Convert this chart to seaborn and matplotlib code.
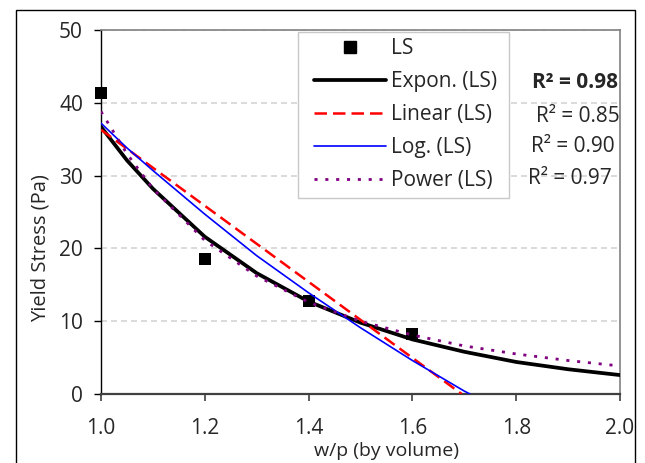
import matplotlib
matplotlib.use("Agg")
import matplotlib.pyplot as plt
from matplotlib.lines import Line2D
from matplotlib.patches import Rectangle
import pandas as pd
import seaborn as sns

# measured yield stress (LS)
ls_x = [1.0, 1.2, 1.4, 1.6]
ls_y = [41.3, 18.5, 12.8, 8.2]

# trendlines, values
fit_x = [1.0, 1.05, 1.1, 1.2, 1.3, 1.4, 1.5, 1.6, 1.7, 1.8, 1.9, 2.0]
expon_y = [36.7, 32.1, 28.2, 21.6, 16.6, 12.7, 9.8, 7.5, 5.8, 4.4, 3.4, 2.6]
power_y = [38.8, 33.0, 28.2, 21.1, 16.2, 12.6, 10.0, 8.1, 6.6, 5.5, 4.6, 3.85]
log_x = [1.0, 1.05, 1.1, 1.2, 1.3, 1.4, 1.5, 1.6, 1.7, 1.711]
log_y = [37.2, 33.8, 30.7, 24.7, 19.0, 13.9, 9.1, 4.6, 0.4, 0.0]
lin_x = [1.0, 1.695]
lin_y = [36.3, 0.0]

labels = ["LS", "Expon. (LS)", "Linear (LS)", "Log. (LS)", "Power (LS)"]
r2_text = ["R\u00b2 = 0.98", "R\u00b2 = 0.85", "R\u00b2 = 0.90", "R\u00b2 = 0.97"]
xticks = [1.0, 1.2, 1.4, 1.6, 1.8, 2.0]
yticks = [0, 10, 20, 30, 40, 50]

sns.set_style("white")
plt.rcParams['font.family'] = ['Open Sans', 'DejaVu Sans']

fig = plt.figure(figsize=(6.45, 4.63), dpi=100)
ax = fig.add_axes([101/645, 1-394/463, 519/645, 364/463])

ls_df = pd.DataFrame({"x": ls_x, "y": ls_y})
fit_df = pd.DataFrame({"x": fit_x, "expon": expon_y, "power": power_y})
log_df = pd.DataFrame({"x": log_x, "y": log_y})
lin_df = pd.DataFrame({"x": lin_x, "y": lin_y})

sns.scatterplot(data=ls_df, x="x", y="y", ax=ax, marker="s", s=64,
                color="black", edgecolor="black", linewidth=0, clip_on=False, zorder=3)
sns.lineplot(data=fit_df, x="x", y="expon", ax=ax, color="black", linewidth=2.7,
             estimator=None, zorder=4)
sns.lineplot(data=lin_df, x="x", y="y", ax=ax, color="#ff0000", linewidth=1.8,
             linestyle=(0, (5, 2.4)), estimator=None, zorder=5)
sns.lineplot(data=log_df, x="x", y="y", ax=ax, color="#0000ff", linewidth=1.2,
             estimator=None, zorder=6)
sns.lineplot(data=fit_df, x="x", y="power", ax=ax, color="#800080", linewidth=2.0,
             linestyle=(0, (1.1, 2.8)), estimator=None, zorder=7)

ax.set_xlim(1.0, 2.0)
ax.set_ylim(0, 50)
ax.set_xticks(xticks)
ax.set_xticklabels(["%.1f" % t for t in xticks])
ax.set_yticks(yticks)
ax.tick_params(axis="x", direction="out", length=5, width=1.2, color="#404040",
               labelsize=15, pad=12, bottom=True)
ax.tick_params(axis="y", direction="out", length=5, width=1.0, color="black",
               labelsize=15, pad=8, left=True)

ax.grid(False)
ax.yaxis.grid(True, color="#d4d4d4", linestyle=(0, (3.6, 2.4)), linewidth=1.2)
ax.set_axisbelow(True)

for side in ["top", "right"]:
    ax.spines[side].set_color("#808080")
    ax.spines[side].set_linewidth(1.2)
ax.spines["left"].set_color("black")
ax.spines["left"].set_linewidth(1.0)
ax.spines["bottom"].set_color("#404040")
ax.spines["bottom"].set_linewidth(1.6)

ax.set_xlabel("w/p (by volume)", fontsize=14, labelpad=0)
ax.xaxis.set_label_coords(0.551, -0.133)
ax.set_ylabel("Yield Stress (Pa)", fontsize=14.5)
ax.yaxis.set_label_coords(-0.098, 0.40)

# legend box drawn separately so the padding can match the original
ax.add_patch(Rectangle(((298-101)/519, (394-198)/364), 211/519, 166/364,
                       transform=ax.transAxes, facecolor="white",
                       edgecolor="#c8c8c8", linewidth=1.0, zorder=2.5,
                       clip_on=False))

handles = [
    Line2D([], [], marker="s", markersize=8, color="black", linestyle="none"),
    Line2D([], [], color="black", linewidth=2.7),
    Line2D([], [], color="#ff0000", linewidth=1.8, linestyle=(0, (5, 2.4))),
    Line2D([], [], color="#0000ff", linewidth=1.2),
    Line2D([], [], color="#800080", linewidth=2.0, linestyle=(0, (1.1, 2.8))),
]
leg = ax.legend(handles, labels, loc="upper left",
                bbox_to_anchor=((314-101)/519, (394-38)/364),
                borderaxespad=0, fontsize=15, frameon=False,
                handlelength=3.46, handletextpad=0.24, labelspacing=0.58,
                borderpad=0)
leg.set_zorder(9)

r2_pos = [(0.996, 0.857), (1.0, 0.761), (0.990, 0.681), (0.984, 0.593)]
for i, txt in enumerate(r2_text):
    ax.text(r2_pos[i][0], r2_pos[i][1], txt, transform=ax.transAxes, ha="right",
            va="center", fontsize=15, fontweight="bold" if i == 0 else "normal",
            clip_on=False, zorder=8)

fig.add_artist(Rectangle((16/645, -0.05), (635-16)/645, 1-10/463+0.05,
                         transform=fig.transFigure, fill=False,
                         edgecolor="black", linewidth=1))

fig.savefig("out.png", dpi=100)
